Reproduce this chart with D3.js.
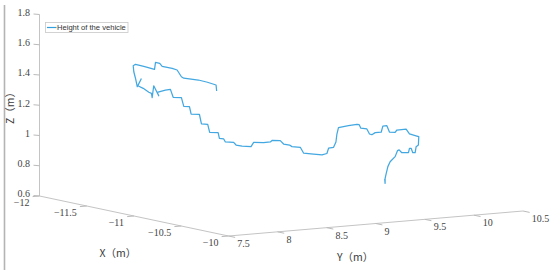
<!DOCTYPE html>
<html>
<head>
<meta charset="utf-8">
<script src="https://cdn.jsdelivr.net/npm/d3@7"></script>
<style>
  html, body { margin: 0; padding: 0; background: #fff; }
  svg { display: block; }
  .tick { font-family: "Liberation Serif", serif; font-size: 10px; fill: #444; }
  .title { font-family: "Noto Sans CJK SC", sans-serif; font-size: 10.5px; fill: #3a3a3a; }
</style>
</head>
<body>
<svg id="chart"></svg>
<script>
const width = 550, height = 275;

const xTicks = [-12, -11.5, -11, -10.5, -10];
const yTicks = [7.5, 8, 8.5, 9, 9.5, 10, 10.5];
const zTicks = [0.6, 0.8, 1, 1.2, 1.4, 1.6, 1.8];

// the depth of the track cannot be read from a single view, so it sits at mid depth
const trackX = -11;
const trackY = [8.342, 8.336, 8.248, 8.156, 8.007, 7.983, 7.939, 7.889, 7.787, 7.762, 7.719, 7.709, 7.600, 7.515, 7.492, 7.498,
  7.515, 7.533, 7.573, 7.539, 7.594, 7.651, 7.678, 7.685, 7.701, 7.752, 7.736, 7.820, 7.871, 7.899, 7.983, 8.007, 8.065, 8.082,
  8.166, 8.187, 8.251, 8.271, 8.357, 8.370, 8.414, 8.431, 8.515, 8.540, 8.601, 8.692, 8.719, 8.820, 8.889, 8.909, 8.990, 9.024,
  9.085, 9.109, 9.194, 9.227, 9.329, 9.415, 9.465, 9.482, 9.533, 9.557, 9.567, 9.583, 9.685, 9.771, 9.794, 9.811, 9.872, 9.899,
  9.923, 9.957, 10.018, 10.035, 10.076, 10.102, 10.160, 10.178, 10.272, 10.306, 10.381, 10.401, 10.397, 10.374, 10.364, 10.340,
  10.323, 10.306, 10.296, 10.228, 10.201, 10.184, 10.160, 10.109, 10.086, 10.066, 10.058, 10.058, 10.054];
const trackZ = [1.380, 1.420, 1.443, 1.463, 1.483, 1.494, 1.541, 1.555, 1.574, 1.595, 1.604, 1.558, 1.584, 1.602, 1.594, 1.554,
  1.510, 1.453, 1.502, 1.459, 1.439, 1.410, 1.401, 1.372, 1.450, 1.381, 1.405, 1.415, 1.417, 1.363, 1.356, 1.297, 1.292, 1.242,
  1.236, 1.172, 1.165, 1.111, 1.104, 1.066, 1.059, 1.038, 1.031, 1.012, 1.002, 0.993, 1.020, 1.012, 1.013, 1.023, 1.016, 0.992,
  0.982, 0.970, 0.961, 0.921, 0.909, 0.898, 0.905, 0.939, 0.942, 0.976, 1.028, 1.070, 1.077, 1.081, 1.077, 1.053, 1.045, 1.010,
  1.004, 1.016, 1.015, 1.055, 1.055, 1.012, 1.007, 1.021, 1.021, 0.988, 0.970, 0.965, 0.910, 0.900, 0.861, 0.862,
  0.892, 0.893, 0.865, 0.868, 0.888, 0.884, 0.846, 0.815, 0.784, 0.730, 0.708, 0.675, 0.704];

const seriesName = 'Height of the vehicle';
const lineColor = '#2f9fde';
const axisColor = '#c4c4c4';

const svg = d3.select('#chart').attr('width', width).attr('height', height);

// oblique view: each data axis adds its own screen offset
const xToSx = d3.scaleLinear().domain([-12, -10]).range([39.5, 228.5]);
const xToSy = d3.scaleLinear().domain([-12, -10]).range([196, 236]);
const yToSx = d3.scaleLinear().domain([7.5, 10.5]).range([0, 294.5]);
const yToSy = d3.scaleLinear().domain([7.5, 10.5]).range([0, -25]);
const zToSy = d3.scaleLinear().domain([0.6, 1.8]).range([0, -181.5]);

const project = (x, y, z) => [xToSx(x) + yToSx(y), xToSy(x) + yToSy(y) + zToSy(z)];

// scan edge on the left of the picture
svg.append('line')
  .attr('x1', 4.5).attr('x2', 4.5).attr('y1', 5).attr('y2', 270)
  .attr('stroke', '#b4b4b4').attr('stroke-width', 1.6);

const axes = svg.append('g').attr('stroke', axisColor).attr('stroke-width', 1).attr('fill', 'none');

function seg(a, b, color) {
  axes.append('line')
    .attr('x1', a[0]).attr('y1', a[1])
    .attr('x2', b[0]).attr('y2', b[1])
    .attr('stroke', color || axisColor);
}

seg(project(-12, 7.5, 0.6), project(-12, 7.5, 1.8));
seg(project(-12, 7.5, 0.6), project(-10, 7.5, 0.6));
seg(project(-10, 7.5, 0.6), project(-10, 10.5, 0.6));

const tickColor = '#bbb';
zTicks.forEach(z => {
  const p = project(-12, 7.5, z);
  seg(p, [p[0] - 6, p[1] - 0.5], tickColor);
  svg.append('text').attr('class', 'tick')
    .attr('x', p[0] - 9.5).attr('y', p[1] + 1.3)
    .attr('text-anchor', 'end').text(d3.format('~g')(z));
});

xTicks.forEach(x => {
  const p = project(x, 7.5, 0.6);
  const q = project(x, 7.43, 0.6);
  seg(p, q, tickColor);
  svg.append('text').attr('class', 'tick')
    .attr('x', p[0] - 10).attr('y', p[1] + 10)
    .attr('text-anchor', 'end').text('\u2212' + Math.abs(x));
});

yTicks.forEach(y => {
  const p = project(-10, y, 0.6);
  const q = project(-9.93, y, 0.6);
  seg(p, q, tickColor);
  svg.append('text').attr('class', 'tick')
    .attr('x', p[0] + 8.8).attr('y', p[1] + 11)
    .attr('text-anchor', 'start').text(y);
});

svg.append('text').attr('class', 'title')
  .attr('x', 99.5).attr('y', 256.5).text('X（m）');
svg.append('text').attr('class', 'title')
  .attr('x', 337).attr('y', 260.5).text('Y（m）');
svg.append('text').attr('class', 'title')
  .attr('transform', 'translate(14,124) rotate(-90)').text('Z（m）');

const line = d3.line()
  .x(d => project(trackX, d[0], d[1])[0])
  .y(d => project(trackX, d[0], d[1])[1]);

svg.append('path')
  .attr('d', line(d3.zip(trackY, trackZ)))
  .attr('fill', 'none')
  .attr('stroke', lineColor)
  .attr('stroke-opacity', 0.9)
  .attr('stroke-width', 1.25)
  .attr('stroke-linejoin', 'round');

// legend
const legend = svg.append('g');
legend.append('rect')
  .attr('x', 45.5).attr('y', 22.5).attr('width', 82.5).attr('height', 10)
  .attr('fill', '#fff').attr('stroke', '#c8c8c8').attr('stroke-width', 0.8);
legend.append('line')
  .attr('x1', 47).attr('x2', 56.5).attr('y1', 27.5).attr('y2', 27.5)
  .attr('stroke', lineColor).attr('stroke-width', 1.2);
legend.append('text')
  .attr('x', 57).attr('y', 30.3)
  .attr('font-family', '"Liberation Sans", sans-serif')
  .attr('font-size', 7.6)
  .attr('fill', '#333')
  .text(seriesName);
</script>
</body>
</html>
